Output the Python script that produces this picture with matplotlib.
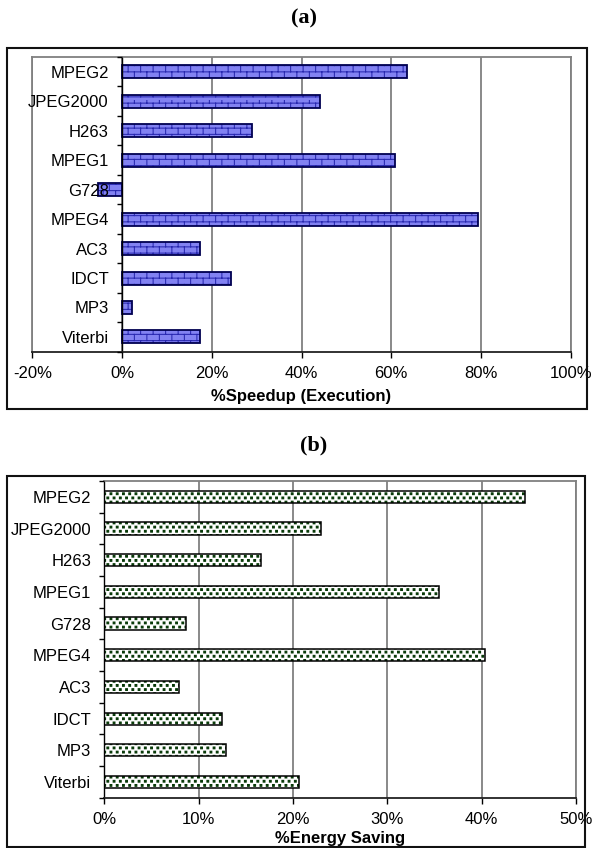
import warnings
warnings.filterwarnings("ignore")
import numpy as np
import matplotlib
matplotlib.use("Agg")
import matplotlib.pyplot as plt
import matplotlib.hatch as mhatch
from matplotlib.path import Path
from matplotlib.patches import Rectangle

# ---------------- data ----------------
categories = ["MPEG2", "JPEG2000", "H263", "MPEG1", "G728",
              "MPEG4", "AC3", "IDCT", "MP3", "Viterbi"]
speedup = [63.5, 44.2, 28.9, 60.8, -5.3, 79.4, 17.3, 24.3, 2.2, 17.3]
energy = [44.6, 23.0, 16.6, 35.5, 8.7, 40.4, 7.9, 12.5, 12.9, 20.6]
speedup_ticks = [-20, 0, 20, 40, 60, 80, 100]
energy_ticks = [0, 10, 20, 30, 40, 50]
panel_titles = ["(a)", "(b)"]
xlabels = ["%Speedup (Execution)", "%Energy Saving"]


# ---------------- custom hatches ----------------
class BrickHatch(mhatch.HatchPatternBase):
    rows = 16
    cols = 8

    def __init__(self, hatch, density):
        if 'B' in hatch:
            self.num_vertices = self.rows * 2 + self.rows * self.cols * 2
        else:
            self.num_vertices = 0

    def set_vertices_and_codes(self, vertices, codes):
        h = 1.0 / self.rows
        w = 1.0 / self.cols
        v = []
        for r in range(self.rows):
            y = (r + 0.5) * h
            v += [(0.0, y), (1.0, y)]
        for r in range(self.rows):
            y0 = (r + 0.5) * h
            y1 = y0 + h
            off = w / 2 if r % 2 else 0.0
            for c in range(self.cols):
                x = c * w + w / 4 + off
                v += [(x, y0), (x, y1)]
        vertices[:] = np.array(v)
        codes[0::2] = Path.MOVETO
        codes[1::2] = Path.LINETO


class DotHatch(mhatch.HatchPatternBase):
    rows = 24
    cols = 16
    size = 0.018

    def __init__(self, hatch, density):
        if 'D' in hatch:
            self.num_vertices = 5 * self.rows * self.cols
        else:
            self.num_vertices = 0

    def set_vertices_and_codes(self, vertices, codes):
        sh = 1.0 / self.rows
        sw = 1.0 / self.cols
        s = self.size / 2
        v = []
        cds = []
        for r in range(self.rows):
            y = (r + 0.5) * sh
            off = sw / 2 if r % 2 else 0.0
            for c in range(self.cols):
                x = (c + 0.25) * sw + off
                v += [(x - s, y - s), (x + s, y - s), (x + s, y + s),
                      (x - s, y + s), (x - s, y - s)]
                cds += [Path.MOVETO, Path.LINETO, Path.LINETO,
                        Path.LINETO, Path.CLOSEPOLY]
        vertices[:] = np.array(v)
        codes[:] = cds


mhatch._hatch_types.append(BrickHatch)
mhatch._hatch_types.append(DotHatch)

plt.rcParams['font.family'] = ['Liberation Sans', 'DejaVu Sans']
plt.rcParams['hatch.linewidth'] = 0.75

W, H = 594, 848
fig = plt.figure(figsize=(W / 100, H / 100), dpi=100)


def rect(l, r, t, b):
    return [l / W, 1 - b / H, (r - l) / W, (b - t) / H]


GRAY = '#808080'


def setup(ax, vals, ticks, bar_h, face, hatch_col, edge, hatch, edge_lw, xlabel, label_y):
    y = np.arange(len(categories))
    ax.barh(y, vals, height=bar_h, color=face, edgecolor=hatch_col,
            linewidth=0, hatch=hatch, zorder=1)
    ax.barh(y, vals, height=bar_h, fill=False, edgecolor=edge,
            linewidth=edge_lw, zorder=1.2)
    ax.set_xlim(ticks[0], ticks[-1])
    ax.set_ylim(len(categories) - 0.5, -0.5)
    ax.set_xticks(ticks)
    ax.set_xticklabels([f"{t}%" for t in ticks])
    ax.set_yticks(y)
    ax.set_yticklabels(categories)
    ax.set_yticks(np.arange(-0.5, len(categories), 1.0), minor=True)
    ax.tick_params(axis='y', which='major', length=0, pad=9.5, labelsize=12)
    ax.tick_params(axis='y', which='minor', length=3.5, width=1,
                   direction='out', color='black')
    ax.tick_params(axis='x', which='major', length=4, width=1,
                   direction='out', pad=6, labelsize=12, color='black')
    ax.grid(axis='x', color=GRAY, lw=1.3)
    ax.xaxis.set_zorder(0.5)
    ax.yaxis.set_zorder(3)
    ax.spines['left'].set_position(('data', 0))
    ax.spines['left'].set_color('black')
    ax.spines['left'].set_linewidth(1.0)
    ax.spines['bottom'].set_color('#222222')
    ax.spines['bottom'].set_linewidth(1.3)
    for s in ('top', 'right'):
        ax.spines[s].set_color(GRAY)
        ax.spines[s].set_linewidth(1.3)
    if ticks[0] < 0:
        ax.axvline(ticks[0], color=GRAY, lw=1.3, clip_on=False, zorder=0.4)
    ax.set_xlabel(xlabel, fontsize=12, fontweight='bold')
    ax.xaxis.set_label_coords(0.5, label_y)
    ax.xaxis.label.set_va('center')


axA = fig.add_axes(rect(32.3, 570.7, 57, 351.7))
setup(axA, speedup, speedup_ticks, 0.44, '#8282f2', '#2828b0', '#000050',
      'B', 1.3, xlabels[0], -(396 - 351.7) / (351.7 - 57))

axB = fig.add_axes(rect(104.3, 576, 481, 797.7))
setup(axB, energy, energy_ticks, 0.38, 'white', '#063806', 'black',
      'D', 1.1, xlabels[1], -(839 - 797.7) / (797.7 - 481))

# panel titles
fig.text(304 / W, 1 - 18 / H, panel_titles[0], family='Liberation Serif',
         fontweight='bold', fontsize=16, ha='center', va='center')
fig.text(313.5 / W, 1 - 445 / H, panel_titles[1], family='Liberation Serif',
         fontweight='bold', fontsize=16, ha='center', va='center')

# outer frames
fig.add_artist(Rectangle((7 / W, 1 - 409 / H), (587 - 7) / W, (409 - 48) / H,
                         transform=fig.transFigure, fill=False, lw=1.5,
                         edgecolor='#111111'))
fig.add_artist(Rectangle((7 / W, 1 - 847 / H), (585 - 7) / W, (847 - 476) / H,
                         transform=fig.transFigure, fill=False, lw=1.5,
                         edgecolor='#111111'))

fig.savefig("out.png", dpi=100)
